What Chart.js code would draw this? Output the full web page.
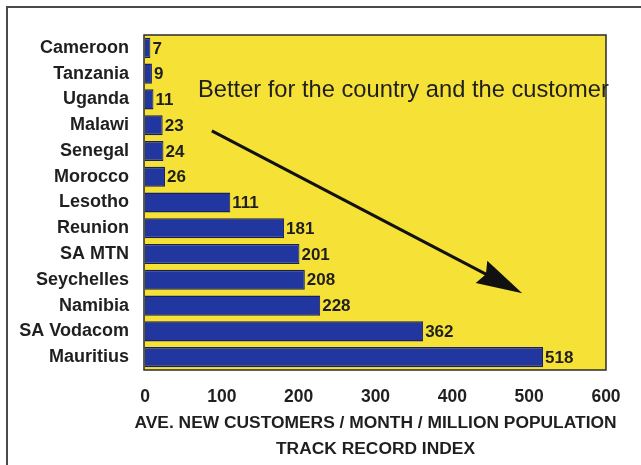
<!DOCTYPE html>
<html>
<head>
<meta charset="utf-8">
<script src="https://cdn.jsdelivr.net/npm/chart.js@4.4.1/dist/chart.umd.min.js"></script>
<style>
  html, body { margin: 0; padding: 0; background: #ffffff; }
  #wrap { position: relative; width: 641px; height: 465px; }
  #frame {
    position: absolute; left: 6px; top: 6px; width: 700px; height: 500px;
    border-top: 2px solid #4a4a4a; border-left: 2px solid #4a4a4a;
  }
  canvas { position: absolute; left: 0; top: 0; }
</style>
</head>
<body>
<div id="wrap">
  <div id="frame"></div>
  <canvas id="track-chart" width="641" height="465"></canvas>
</div>
<script>
// Track record index per country
const countries = [
  "Cameroon", "Tanzania", "Uganda", "Malawi", "Senegal", "Morocco", "Lesotho",
  "Reunion", "SA MTN", "Seychelles", "Namibia", "SA Vodacom", "Mauritius"
];
const customersPerMillion = [7, 9, 11, 23, 24, 26, 111, 181, 201, 208, 228, 362, 518];
const xTicks = [0, 100, 200, 300, 400, 500, 600];
const axisTitle = ["AVE. NEW CUSTOMERS / MONTH / MILLION POPULATION", "TRACK RECORD INDEX"];
const noteText = "Better for the country and the customer";

const textColor = "#1f1f1f";
const plotYellow = "#f6e236";
const barBlue = "#21369f";

// yellow plot background + dark frame round it
const plotBackground = {
  id: "plotBackground",
  beforeDraw(chart) {
    const { ctx, chartArea: a } = chart;
    ctx.save();
    ctx.fillStyle = plotYellow;
    ctx.fillRect(a.left - 1, a.top, a.right - a.left + 1, a.bottom - a.top);
    ctx.strokeStyle = "#2b2b2b";
    ctx.lineWidth = 1.5;
    ctx.strokeRect(a.left - 1, a.top, a.right - a.left + 1, a.bottom - a.top);
    ctx.restore();
  }
};

// numbers printed at the end of each bar
const barValues = {
  id: "barValues",
  afterDatasetsDraw(chart) {
    const { ctx } = chart;
    const meta = chart.getDatasetMeta(0);
    ctx.save();
    ctx.font = "bold 17px 'Liberation Sans', Arial, sans-serif";
    ctx.fillStyle = textColor;
    ctx.textAlign = "left";
    ctx.textBaseline = "middle";
    meta.data.forEach((bar, i) => {
      ctx.fillText(String(customersPerMillion[i]), bar.x + 2, bar.y + 1);
    });
    ctx.restore();
  }
};

// axis title drawn by hand: the built-in one gets squeezed to the plot width
const xAxisTitle = {
  id: "xAxisTitle",
  afterDraw(chart) {
    const { ctx, scales: { x } } = chart;
    const cx = (x.left + x.right) / 2;
    ctx.save();
    ctx.font = "bold 17.4px 'Liberation Sans', Arial, sans-serif";
    ctx.fillStyle = textColor;
    ctx.textAlign = "center";
    ctx.textBaseline = "middle";
    axisTitle.forEach((line, i) => {
      ctx.fillText(line, cx, x.bottom - 42 + i * 26);
    });
    ctx.restore();
  }
};

// the "better" note and arrow, placed in data units
const betterArrow = {
  id: "betterArrow",
  afterDatasetsDraw(chart) {
    const { ctx, scales: { x, y } } = chart;
    const tx = x.getPixelForValue(69);
    const ty = y.getPixelForValue(1.67);
    const x0 = x.getPixelForValue(87), y0 = y.getPixelForValue(3.22);
    const x1 = x.getPixelForValue(491), y1 = y.getPixelForValue(9.52);
    ctx.save();
    ctx.font = "23.7px 'Liberation Sans', Arial, sans-serif";
    ctx.fillStyle = textColor;
    ctx.textBaseline = "middle";
    ctx.fillText(noteText, tx, ty);

    const ang = Math.atan2(y1 - y0, x1 - x0);
    const headLen = 46, headHalf = 12.5;
    const bx = x1 - headLen * Math.cos(ang), by = y1 - headLen * Math.sin(ang);
    ctx.strokeStyle = "#111111";
    ctx.lineWidth = 3;
    ctx.beginPath();
    ctx.moveTo(x0, y0);
    ctx.lineTo(bx + 6 * Math.cos(ang), by + 6 * Math.sin(ang));
    ctx.stroke();
    ctx.fillStyle = "#111111";
    ctx.beginPath();
    ctx.moveTo(x1, y1);
    ctx.lineTo(bx - headHalf * Math.sin(ang), by + headHalf * Math.cos(ang));
    ctx.lineTo(bx + 5 * Math.cos(ang), by + 5 * Math.sin(ang));
    ctx.lineTo(bx + headHalf * Math.sin(ang), by - headHalf * Math.cos(ang));
    ctx.closePath();
    ctx.fill();
    ctx.restore();
  }
};

new Chart(document.getElementById("track-chart"), {
  type: "bar",
  data: {
    labels: countries,
    datasets: [{
      data: customersPerMillion,
      backgroundColor: barBlue,
      borderColor: "#172066",
      borderWidth: { top: 1.5, bottom: 1.5, right: 1, left: 0 },
      borderSkipped: false,
      barPercentage: 0.78,
      categoryPercentage: 1
    }]
  },
  options: {
    indexAxis: "y",
    responsive: false,
    animation: false,
    devicePixelRatio: 1,
    layout: { padding: { left: 0, top: 35, right: 35, bottom: 0 } },
    plugins: {
      legend: { display: false },
      tooltip: { enabled: false }
    },
    scales: {
      x: {
        min: 0,
        max: 600,
        afterFit: scale => { scale.height = 95; },
        afterBuildTicks: scale => { scale.ticks = xTicks.map(v => ({ value: v })); },
        grid: { display: false, drawTicks: false },
        border: { display: false },
        ticks: {
          color: textColor,
          padding: 17,
          font: { family: "'Liberation Sans', Arial, sans-serif", size: 17.5, weight: "bold" }
        },
        title: { display: false }
      },
      y: {
        afterFit: scale => { scale.width = 145; },
        grid: { display: false, drawTicks: false },
        border: { display: false },
        ticks: {
          color: textColor,
          padding: 16,
          font: { family: "'Liberation Sans', Arial, sans-serif", size: 18, weight: "bold" }
        }
      }
    }
  },
  plugins: [plotBackground, barValues, xAxisTitle, betterArrow]
});
</script>
</body>
</html>
